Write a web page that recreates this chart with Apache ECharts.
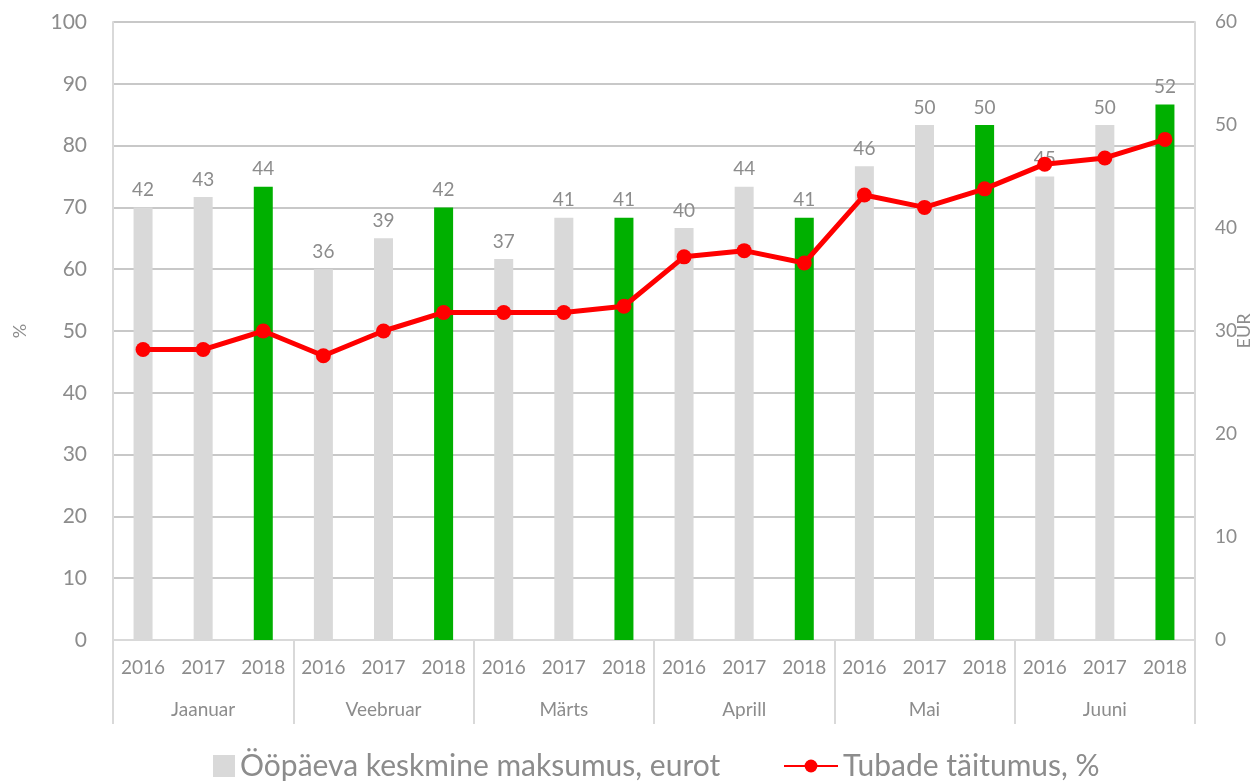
<!DOCTYPE html>
<html>
<head>
<meta charset="utf-8">
<script src="https://cdn.jsdelivr.net/npm/echarts@6/dist/echarts.min.js"></script>
<style>html,body{margin:0;padding:0;background:#fff;}#c{width:1259px;height:781px;}</style>
</head>
<body>
<div id="c"></div>
<script>
const years = ['2016','2017','2018','2016','2017','2018','2016','2017','2018','2016','2017','2018','2016','2017','2018','2016','2017','2018'];
const months = ['Jaanuar','Veebruar','Märts','Aprill','Mai','Juuni'];
const priceEur = [42,43,44,36,39,42,37,41,41,40,44,41,46,50,50,45,50,52];
const occupancyPct = [47,47,50,46,50,53,53,53,54,62,63,61,72,70,73,77,78,81];
const barName = 'Ööpäeva keskmine maksumus, eurot';
const lineName = 'Tubade täitumus, %';

const GRAY = '#d9d9d9', GREEN = '#00b000', RED = '#ff0000', TXT = '#8c8c8c';
const FONT = 'Lato';

const barData = priceEur.map((v, i) => years[i] === '2018' ? {value: v, itemStyle: {color: GREEN}} : v);

const legendText = {color: TXT, fontSize: 30, fontFamily: 'Lato'};

const chart = echarts.init(document.getElementById('c'), null, {renderer: 'canvas'});
chart.setOption({
  animation: false,
  textStyle: {fontFamily: FONT},
  grid: {left: 113, right: 64, top: 22, bottom: 141, containLabel: false, outerBoundsMode: 'none'},
  legend: [
    {
      left: 208, bottom: -5, itemWidth: 22, itemHeight: 22, itemGap: 0,
      textStyle: legendText, data: [{name: barName, icon: 'rect'}]
    },
    {
      left: 778, bottom: -5, itemWidth: 54, itemHeight: 16, itemGap: 0,
      textStyle: legendText, data: [{name: lineName}]
    }
  ],
  xAxis: [
    {
      type: 'category', data: years, position: 'bottom',
      axisLine: {show: true, lineStyle: {color: GRAY, width: 2}},
      axisTick: {show: false},
      axisLabel: {color: TXT, fontSize: 19, margin: 18, interval: 0}
    },
    {
      type: 'category', data: months, position: 'bottom', boundaryGap: true,
      axisLine: {show: false},
      axisTick: {show: true, length: 84, interval: 0, lineStyle: {color: GRAY, width: 2}},
      axisLabel: {color: TXT, fontSize: 19, margin: 60, interval: 0},
      splitLine: {show: false}
    }
  ],
  yAxis: [
    {
      type: 'value', min: 0, max: 100, interval: 10, name: '%',
      nameLocation: 'middle', nameGap: 84, nameRotate: 90, nameMoveOverlap: false,
      nameTextStyle: {color: TXT, fontSize: 18},
      axisLine: {show: true, lineStyle: {color: GRAY, width: 2}},
      axisTick: {show: false},
      axisLabel: {color: TXT, fontSize: 21, margin: 26},
      splitLine: {show: true, lineStyle: {color: '#c8c8c8', width: 2}}
    },
    {
      type: 'value', min: 0, max: 60, interval: 10, name: 'EUR', position: 'right',
      nameLocation: 'middle', nameGap: 40, nameRotate: 90, nameMoveOverlap: false,
      nameTextStyle: {color: TXT, fontSize: 18},
      axisLine: {show: true, lineStyle: {color: GRAY, width: 2}},
      axisTick: {show: false},
      axisLabel: {color: TXT, fontSize: 19, margin: 20},
      splitLine: {show: false}
    }
  ],
  series: [
    {
      name: barName, type: 'bar', xAxisIndex: 0, yAxisIndex: 1,
      data: barData, barWidth: 19,
      itemStyle: {color: GRAY},
      label: {show: true, position: 'top', distance: 8, color: TXT, fontSize: 19}
    },
    {
      name: lineName, type: 'line', xAxisIndex: 0, yAxisIndex: 0,
      data: occupancyPct, symbol: 'circle', symbolSize: 15,
      lineStyle: {color: RED, width: 5}, itemStyle: {color: RED}, z: 5
    }
  ]
});
</script>
</body>
</html>
